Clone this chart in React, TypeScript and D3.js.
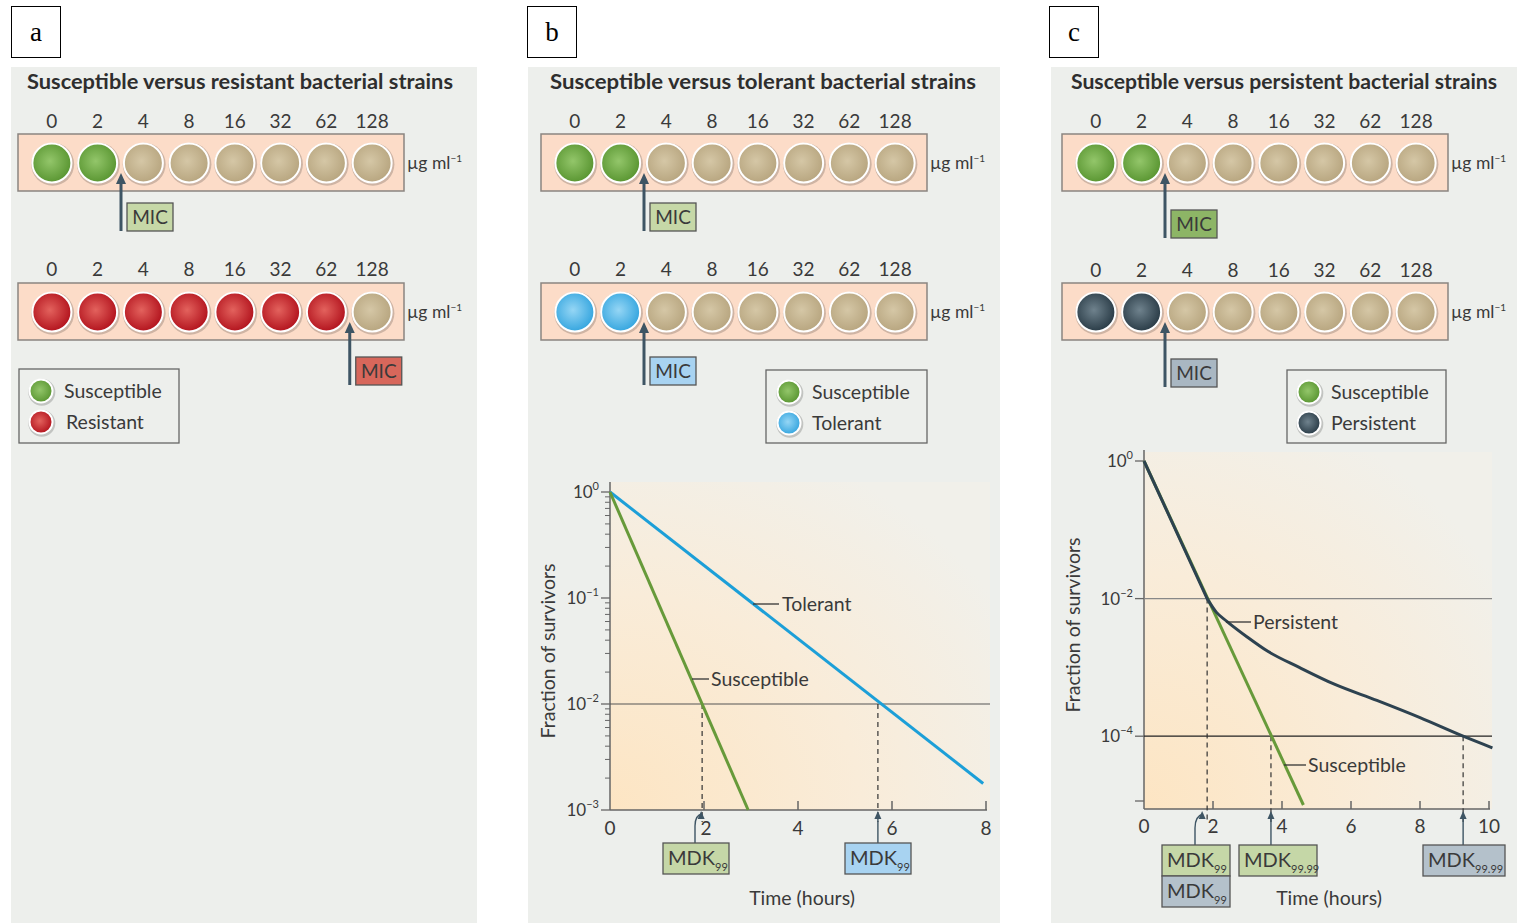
import React, { useRef, useEffect } from "react";
import * as d3 from "d3";

// concentrations (µg ml-1) of the dilution series
const concLabels = ["0", "2", "4", "8", "16", "32", "62", "128"];

// well states: S susceptible, R resistant, T tolerant, P persistent, N no growth
const rowA1 = ["S", "S", "N", "N", "N", "N", "N", "N"];
const rowA2 = ["R", "R", "R", "R", "R", "R", "R", "N"];
const rowB1 = ["S", "S", "N", "N", "N", "N", "N", "N"];
const rowB2 = ["T", "T", "N", "N", "N", "N", "N", "N"];
const rowC1 = ["S", "S", "N", "N", "N", "N", "N", "N"];
const rowC2 = ["P", "P", "N", "N", "N", "N", "N", "N"];

// kill curves, panel b: [time (h), fraction of survivors]
const bSusceptible = [[0, 1], [2.94, 0.001]];
const bTolerant = [[0, 1], [7.94, 0.00178]];
const bMdkTimes = [1.96, 5.7];

// kill curves, panel c
const cSusceptible = [[0, 1], [4.62, 0.00001]];
// first phase follows the susceptible kill, then the persister tail
const cPersistentFast = [[0, 1], [1.83, 0.01]];
const cPersistentTail = [
  [1.83, 0.01], [2.1, 0.0063], [2.4, 0.00468], [3.0, 0.00275],
  [3.6, 0.0017], [4.5, 0.001], [5.5, 0.000575], [6.75, 0.000331],
  [8, 0.000186], [9.25, 0.0001], [10.1, 0.0000676],
];
const cMdkTimes = [1.83, 3.68, 9.25];

const font = "Lato, 'Open Sans', sans-serif";
const ink = "#3a3a3a";
const arrowCol = "#3e5564";

const wellColors: Record<string, string[]> = {
  S: ["#93c66a", "#5a9632"],
  R: ["#e3625d", "#b3141e"],
  T: ["#95d6f5", "#36a6df"],
  P: ["#6f828d", "#2a3c47"],
  N: ["#d5c7a6", "#b8a680"],
};

const panels = [
  {
    key: "a", off: 0, bgX: 11, bgW: 466, labelX: 11,
    title: "Susceptible versus resistant bacterial strains",
    rows: [rowA1, rowA2], mic: [2, 7],
    micFill: ["#c6d8a7", "#d7675b"],
    rowY: [163, 312], labY: [121, 269], micY: [203, 357],
    legend: { x: 19, y: 369, w: 160, h: 74, cx: 41, tx: 64, items: [["S", "Susceptible"], ["R", "Resistant"]] },
  },
  {
    key: "b", off: 523, bgX: 528, bgW: 472, labelX: 527,
    title: "Susceptible versus tolerant bacterial strains",
    rows: [rowB1, rowB2], mic: [2, 2],
    micFill: ["#c6d8a7", "#a8d3f1"],
    rowY: [163, 312], labY: [121, 269], micY: [203, 357],
    legend: { x: 766, y: 370, w: 161, h: 73, cx: 789, tx: 812, items: [["S", "Susceptible"], ["T", "Tolerant"]] },
  },
  {
    key: "c", off: 1044, bgX: 1051, bgW: 466, labelX: 1049,
    title: "Susceptible versus persistent bacterial strains",
    rows: [rowC1, rowC2], mic: [2, 2],
    micFill: ["#8db566", "#a9b7c2"],
    rowY: [163, 312], labY: [121, 270], micY: [210, 359],
    legend: { x: 1287, y: 370, w: 159, h: 73, cx: 1309, tx: 1331, items: [["S", "Susceptible"], ["P", "Persistent"]] },
  },
];

function supLabel(sel: any, exp: string) {
  sel.append("tspan").text("10");
  sel.append("tspan").attr("dy", -8).attr("font-size", 11).text(exp);
}

function mdkBox(g: any, x: number, y: number, w: number, fill: string, sub: string) {
  g.append("rect").attr("x", x).attr("y", y).attr("width", w).attr("height", 31)
    .attr("fill", fill).attr("stroke", "#555").attr("stroke-width", 1.3);
  const t = g.append("text").attr("x", x + 5).attr("y", y + 22)
    .attr("font-family", font).attr("font-size", 20).attr("fill", ink);
  t.append("tspan").text("MDK");
  t.append("tspan").attr("dy", 6).attr("font-size", 11).text(sub);
}

function smallArrow(g: any, d: string, tipX: number, tipY: number) {
  g.append("path").attr("d", d).attr("fill", "none").attr("stroke", arrowCol).attr("stroke-width", 1.4);
  g.append("path")
    .attr("d", `M${tipX},${tipY} L${tipX - 3.5},${tipY + 8} L${tipX + 3.5},${tipY + 8} Z`)
    .attr("fill", arrowCol);
}

function App() {
  const ref = useRef<SVGSVGElement>(null);

  useEffect(() => {
    const svg = d3.select(ref.current);
    svg.selectAll("*").remove();
    const defs = svg.append("defs");

    Object.entries(wellColors).forEach(([k, c]) => {
      const gr = defs.append("radialGradient").attr("id", "well" + k)
        .attr("cx", "45%").attr("cy", "45%").attr("r", "55%");
      gr.append("stop").attr("offset", "0%").attr("stop-color", c[0]);
      gr.append("stop").attr("offset", "100%").attr("stop-color", c[1]);
    });
    const pg = defs.append("radialGradient").attr("id", "plotBg")
      .attr("cx", "0%").attr("cy", "100%").attr("r", "120%");
    pg.append("stop").attr("offset", "0%").attr("stop-color", "#fde5c3");
    pg.append("stop").attr("offset", "55%").attr("stop-color", "#f9ecd9");
    pg.append("stop").attr("offset", "100%").attr("stop-color", "#f1f0ea");

    svg.append("rect").attr("width", 1517).attr("height", 923).attr("fill", "#fff");

    const drawWell = (g: any, cx: number, cy: number, r: number, k: string) => {
      g.append("circle").attr("cx", cx + 0.8).attr("cy", cy + 1.2).attr("r", r + 2)
        .attr("fill", "rgba(0,0,0,0.18)");
      g.append("circle").attr("cx", cx).attr("cy", cy).attr("r", r)
        .attr("fill", `url(#well${k})`).attr("stroke", "#fff").attr("stroke-width", 2);
    };

    panels.forEach((p) => {
      const g = svg.append("g");
      g.append("rect").attr("x", p.bgX).attr("y", 67).attr("width", p.bgW).attr("height", 856)
        .attr("fill", "#edefec");
      g.append("rect").attr("x", p.labelX + 0.5).attr("y", 6.5).attr("width", 49).attr("height", 51)
        .attr("fill", "#fff").attr("stroke", "#000").attr("stroke-width", 1);
      g.append("text").attr("x", p.labelX + 25).attr("y", 41).attr("text-anchor", "middle")
        .attr("font-family", "'Liberation Serif', 'DejaVu Serif', serif").attr("font-size", 27)
        .text(p.key);
      g.append("text").attr("x", 27 + p.off).attr("y", 89).attr("font-family", font)
        .attr("font-weight", "bold").attr("font-size", 20.5).attr("fill", "#2e2e2e")
        .attr("textLength", 426).attr("lengthAdjust", "spacingAndGlyphs").text(p.title);

      const x = d3.scaleBand().domain(concLabels).range([29 + p.off, 395 + p.off]);
      const bw = x.bandwidth();

      p.rows.forEach((row, ri) => {
        const cy = p.rowY[ri];
        g.append("rect").attr("x", 18 + p.off).attr("y", cy - 29).attr("width", 386).attr("height", 57)
          .attr("fill", "#fcdcc8").attr("stroke", "#8a8580").attr("stroke-width", 1.5);
        concLabels.forEach((c, i) => {
          g.append("text").attr("x", (x(c) as number) + bw / 2).attr("y", p.labY[ri] + 7)
            .attr("text-anchor", "middle").attr("font-family", font).attr("font-size", 19)
            .attr("fill", ink).text(c);
          drawWell(g, (x(c) as number) + bw / 2, cy, 19.5, row[i]);
        });
        const u = g.append("text").attr("x", 407 + p.off).attr("y", cy + 6)
          .attr("font-family", font).attr("font-size", 17.5).attr("fill", ink);
        u.append("tspan").text("µg ml");
        u.append("tspan").attr("dy", -7).attr("font-size", 10).text("−1");

        // MIC arrow and label
        const ax = (x(concLabels[p.mic[ri]]) as number) + 0.5;
        const by = p.micY[ri];
        const tip = cy + 10;
        g.append("line").attr("x1", ax).attr("x2", ax).attr("y1", by + 28).attr("y2", tip + 8)
          .attr("stroke", arrowCol).attr("stroke-width", 3);
        g.append("path").attr("d", `M${ax},${tip} L${ax - 5},${tip + 11} L${ax + 5},${tip + 11} Z`)
          .attr("fill", arrowCol);
        g.append("rect").attr("x", ax + 6).attr("y", by).attr("width", 46).attr("height", 28)
          .attr("fill", p.micFill[ri]).attr("stroke", "#555").attr("stroke-width", 1.3);
        g.append("text").attr("x", ax + 29).attr("y", by + 21).attr("text-anchor", "middle")
          .attr("font-family", font).attr("font-size", 19).attr("fill", ink).text("MIC");
      });

      const L = p.legend;
      g.append("rect").attr("x", L.x).attr("y", L.y).attr("width", L.w).attr("height", L.h)
        .attr("fill", "none").attr("stroke", "#666").attr("stroke-width", 1.3);
      L.items.forEach(([k, name], i) => {
        const cy = L.y + 22 + i * 31;
        drawWell(g, L.cx, cy, 11.5, k);
        g.append("text").attr("x", L.tx + (i === 1 && p.key === "a" ? 2 : 0)).attr("y", cy + 7)
          .attr("font-family", font).attr("font-size", 19.5).attr("fill", ink).text(name);
      });
    });

    // ---------- panel b kill curves ----------
    {
      const g = svg.append("g");
      const xs = d3.scaleLinear().domain([0, 8]).range([610, 986]);
      const ys = d3.scaleLog().domain([1e-3, 1]).range([810, 492]);
      g.append("rect").attr("x", 610).attr("y", 482).attr("width", 380).attr("height", 328)
        .attr("fill", "url(#plotBg)");
      // y ticks
      [1e-3, 1e-2, 1e-1].forEach((d) => {
        for (let m = 2; m <= 9; m++) {
          const yy = ys(d * m);
          g.append("line").attr("x1", 605).attr("x2", 610).attr("y1", yy).attr("y2", yy)
            .attr("stroke", "#666").attr("stroke-width", 1);
        }
      });
      const majors = [[1, "0"], [0.1, "−1"], [0.01, "−2"], [0.001, "−3"]] as [number, string][];
      majors.forEach(([v, e]) => {
        g.append("line").attr("x1", 601).attr("x2", 610).attr("y1", ys(v)).attr("y2", ys(v))
          .attr("stroke", "#666").attr("stroke-width", 1.3);
        const t = g.append("text").attr("x", 599).attr("y", ys(v) + 6).attr("text-anchor", "end")
          .attr("font-family", font).attr("font-size", 17).attr("fill", ink);
        supLabel(t, e);
      });
      g.append("line").attr("x1", 610).attr("x2", 610).attr("y1", 482).attr("y2", 810)
        .attr("stroke", "#666").attr("stroke-width", 1.5);
      g.append("line").attr("x1", 610).attr("x2", 987).attr("y1", 810).attr("y2", 810)
        .attr("stroke", "#666").attr("stroke-width", 1.5);
      [0, 2, 4, 6, 8].forEach((v) => {
        if (v > 0)
          g.append("line").attr("x1", xs(v)).attr("x2", xs(v)).attr("y1", 810).attr("y2", 801)
            .attr("stroke", "#666").attr("stroke-width", 1.5);
        g.append("text").attr("x", xs(v) + (v === 2 ? 2 : 0)).attr("y", 835).attr("text-anchor", "middle")
          .attr("font-family", font).attr("font-size", 19).attr("fill", ink).text(v);
      });
      g.append("line").attr("x1", 610).attr("x2", 990).attr("y1", ys(0.01)).attr("y2", ys(0.01))
        .attr("stroke", "#555").attr("stroke-width", 1.2);
      bMdkTimes.forEach((t) => {
        g.append("line").attr("x1", xs(t)).attr("x2", xs(t)).attr("y1", ys(0.01)).attr("y2", 822)
          .attr("stroke", "#333").attr("stroke-width", 1.2).attr("stroke-dasharray", "5,4");
      });
      const line = d3.line<number[]>().x((d) => xs(d[0])).y((d) => ys(d[1]));
      g.append("path").attr("d", line(bTolerant)).attr("fill", "none")
        .attr("stroke", "#1c9fd8").attr("stroke-width", 3);
      g.append("path").attr("d", line(bSusceptible)).attr("fill", "none")
        .attr("stroke", "#679a3a").attr("stroke-width", 3);

      g.append("line").attr("x1", 753).attr("x2", 779).attr("y1", 604).attr("y2", 604)
        .attr("stroke", "#333").attr("stroke-width", 1.3);
      g.append("text").attr("x", 782).attr("y", 611).attr("font-family", font).attr("font-size", 19.5)
        .attr("fill", ink).text("Tolerant");
      g.append("line").attr("x1", 692).attr("x2", 709).attr("y1", 679).attr("y2", 679)
        .attr("stroke", "#333").attr("stroke-width", 1.3);
      g.append("text").attr("x", 711).attr("y", 686).attr("font-family", font).attr("font-size", 19.5)
        .attr("fill", ink).text("Susceptible");

      const x1 = xs(bMdkTimes[0]);
      smallArrow(g, `M695,843 L695,826 Q695,815 ${x1},814`, x1 - 1, 811);
      const x2 = xs(bMdkTimes[1]);
      smallArrow(g, `M${x2},843 L${x2},818`, x2, 811);
      mdkBox(g, 663, 843, 66, "#c5d7a7", "99");
      mdkBox(g, 845, 843, 66, "#a8d3f1", "99");

      g.append("text").attr("x", 802).attr("y", 905).attr("text-anchor", "middle")
        .attr("font-family", font).attr("font-size", 19.5).attr("fill", ink).text("Time (hours)");
      g.append("text").attr("transform", "translate(555,651) rotate(-90)").attr("text-anchor", "middle")
        .attr("font-family", font).attr("font-size", 19.5).attr("fill", ink).text("Fraction of survivors");
    }

    // ---------- panel c kill curves ----------
    {
      const g = svg.append("g");
      const xs = d3.scaleLinear().domain([0, 10]).range([1144, 1489]);
      const ys = d3.scaleLog().domain([1e-5, 1]).range([805, 461]);
      const y0 = 809;
      g.append("rect").attr("x", 1144).attr("y", 452).attr("width", 348).attr("height", y0 - 452)
        .attr("fill", "url(#plotBg)");
      const majors = [[1, "0"], [0.01, "−2"], [0.0001, "−4"]] as [number, string][];
      majors.forEach(([v, e]) => {
        g.append("line").attr("x1", 1135).attr("x2", 1144).attr("y1", ys(v)).attr("y2", ys(v))
          .attr("stroke", "#666").attr("stroke-width", 1.3);
        const t = g.append("text").attr("x", 1133).attr("y", ys(v) + 6).attr("text-anchor", "end")
          .attr("font-family", font).attr("font-size", 17).attr("fill", ink);
        supLabel(t, e);
      });
      g.append("line").attr("x1", 1135).attr("x2", 1144).attr("y1", ys(1e-5) - 4).attr("y2", ys(1e-5) - 4)
        .attr("stroke", "#666").attr("stroke-width", 1.3);
      g.append("line").attr("x1", 1144).attr("x2", 1144).attr("y1", 450).attr("y2", y0)
        .attr("stroke", "#666").attr("stroke-width", 1.5);
      g.append("line").attr("x1", 1144).attr("x2", 1490).attr("y1", y0).attr("y2", y0)
        .attr("stroke", "#666").attr("stroke-width", 1.5);
      [0, 2, 4, 6, 8, 10].forEach((v) => {
        if (v > 0)
          g.append("line").attr("x1", xs(v)).attr("x2", xs(v)).attr("y1", y0).attr("y2", y0 - 8)
            .attr("stroke", "#666").attr("stroke-width", 1.5);
        g.append("text").attr("x", xs(v)).attr("y", 833).attr("text-anchor", "middle")
          .attr("font-family", font).attr("font-size", 19).attr("fill", ink).text(v);
      });
      g.append("line").attr("x1", 1144).attr("x2", 1492).attr("y1", ys(0.01)).attr("y2", ys(0.01))
        .attr("stroke", "#888").attr("stroke-width", 1.3);
      g.append("line").attr("x1", 1144).attr("x2", 1492).attr("y1", ys(0.0001)).attr("y2", ys(0.0001))
        .attr("stroke", "#222").attr("stroke-width", 1.3);
      [[cMdkTimes[0], 0.01], [cMdkTimes[1], 0.0001], [cMdkTimes[2], 0.0001]].forEach(([t, v]) => {
        g.append("line").attr("x1", xs(t)).attr("x2", xs(t)).attr("y1", ys(v)).attr("y2", 822)
          .attr("stroke", "#333").attr("stroke-width", 1.2).attr("stroke-dasharray", "5,4");
      });
      const line = d3.line<number[]>().x((d) => xs(d[0])).y((d) => ys(d[1]));
      const curve = d3.line<number[]>().x((d) => xs(d[0])).y((d) => ys(d[1])).curve(d3.curveMonotoneX);
      g.append("path").attr("d", line(cSusceptible)).attr("fill", "none")
        .attr("stroke", "#679a3a").attr("stroke-width", 3);
      g.append("path").attr("d", (line(cPersistentFast) as string) + (curve(cPersistentTail) as string).replace(/^M/, "L"))
        .attr("fill", "none").attr("stroke", "#2d4250").attr("stroke-width", 3)
        .attr("stroke-linejoin", "round");

      g.append("line").attr("x1", 1226).attr("x2", 1251).attr("y1", 622).attr("y2", 622)
        .attr("stroke", "#333").attr("stroke-width", 1.3);
      g.append("text").attr("x", 1253).attr("y", 629).attr("font-family", font).attr("font-size", 19.5)
        .attr("fill", ink).text("Persistent");
      g.append("line").attr("x1", 1284).attr("x2", 1306).attr("y1", 765).attr("y2", 765)
        .attr("stroke", "#333").attr("stroke-width", 1.3);
      g.append("text").attr("x", 1308).attr("y", 772).attr("font-family", font).attr("font-size", 19.5)
        .attr("fill", ink).text("Susceptible");

      const x1 = xs(cMdkTimes[0]);
      smallArrow(g, `M1195,845 L1195,828 Q1195,816 ${x1 - 4},814`, x1 - 5, 811);
      const x2 = xs(cMdkTimes[1]);
      smallArrow(g, `M${x2},845 L${x2},818`, x2, 811);
      const x3 = xs(cMdkTimes[2]);
      smallArrow(g, `M${x3},845 L${x3},818`, x3, 811);
      mdkBox(g, 1162, 845, 68, "#c5d7a7", "99");
      mdkBox(g, 1162, 876, 68, "#b4c1cb", "99");
      mdkBox(g, 1239, 845, 78, "#c5d7a7", "99.99");
      mdkBox(g, 1423, 845, 82, "#b4c1cb", "99.99");

      g.append("text").attr("x", 1329).attr("y", 905).attr("text-anchor", "middle")
        .attr("font-family", font).attr("font-size", 19.5).attr("fill", ink).text("Time (hours)");
      g.append("text").attr("transform", "translate(1080,625) rotate(-90)").attr("text-anchor", "middle")
        .attr("font-family", font).attr("font-size", 19.5).attr("fill", ink).text("Fraction of survivors");
    }
  }, []);

  return (
    <div style={{ position: "absolute", left: 0, top: 0 }}>
      <svg ref={ref} width={1517} height={923} style={{ display: "block" }}></svg>
    </div>
  );
}

export default App;
